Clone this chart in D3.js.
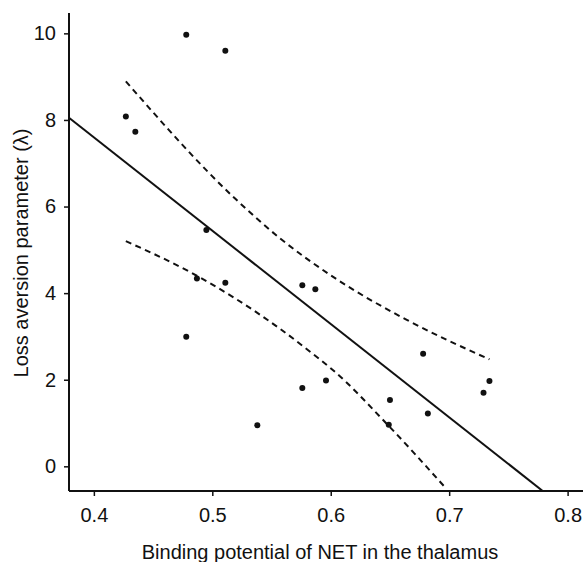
<!DOCTYPE html>
<html>
<head>
<meta charset="utf-8">
<script src="https://cdn.jsdelivr.net/npm/d3@7"></script>
<style>
  body { margin: 0; background: #fff; }
  text { font-family: "Liberation Sans", Arial, sans-serif; fill: #111; }
</style>
</head>
<body>
<script>
// binding potential of NET (x) vs loss aversion lambda (y)
const bpNET = [0.478, 0.511, 0.427, 0.435, 0.495, 0.487, 0.511, 0.478, 0.538,
  0.576, 0.587, 0.678, 0.734, 0.729, 0.576, 0.596, 0.650, 0.682, 0.649]
const lambda = [9.97, 9.60, 8.08, 7.73, 5.46, 4.34, 4.24, 2.99, 0.95,
  4.18, 4.09, 2.60, 1.97, 1.70, 1.81, 1.98, 1.53, 1.22, 0.96]

// regression line end points
const fitX = [0.379, 0.779]
const fitY = [8.05, -0.57]

// confidence bands (dashed)
const upperX = [0.427, 0.519, 0.557, 0.604, 0.663, 0.734]
const upperY = [8.89, 6.19, 5.27, 4.34, 3.40, 2.47]
const lowerX = [0.427, 0.481, 0.557, 0.588, 0.602, 0.647, 0.697]
const lowerY = [5.20, 4.49, 3.18, 2.53, 2.22, 0.99, -0.50]

const xTicks = [0.4, 0.5, 0.6, 0.7, 0.8]
const yTicks = [0, 2, 4, 6, 8, 10]

const width = 583, height = 562
const mLeft = 69, mRight = 583, mTop = 13, mBottom = 491

let svg = d3.select("body").append("svg")
  .attr("width", width).attr("height", height)

let x = d3.scaleLinear().domain([0.379, 0.813]).range([mLeft, mRight])
let y = d3.scaleLinear().domain([-0.57, 10.47]).range([mBottom, mTop])

svg.append("defs").append("clipPath").attr("id", "clip")
  .append("rect").attr("x", mLeft).attr("y", mTop)
  .attr("width", mRight - mLeft).attr("height", mBottom - mTop)

// axes
let xAxis = svg.append("g").attr("transform", `translate(0,${mBottom})`)
  .call(d3.axisBottom(x).tickValues(xTicks).tickFormat(d3.format(".1f")).tickSize(5).tickPadding(12))
let yAxis = svg.append("g").attr("transform", `translate(${mLeft},0)`)
  .call(d3.axisLeft(y).tickValues(yTicks).tickFormat(d3.format("d")).tickSize(5).tickPadding(8))

for (let ax of [xAxis, yAxis]) {
  ax.select(".domain").attr("stroke", "#111").attr("stroke-width", 2)
  ax.selectAll(".tick line").attr("stroke", "#111").attr("stroke-width", 1.5)
  ax.selectAll(".tick text").style("font-size", "20px").attr("fill", "#111")
}
// plain lines instead of the outer tick caps
xAxis.select(".domain").attr("d", `M${mLeft},0H${mRight}`)
yAxis.select(".domain").attr("d", `M0,${mTop}V${mBottom}`)

// axis titles
svg.append("text")
  .attr("x", 320).attr("y", 559)
  .attr("text-anchor", "middle")
  .style("font-size", "20px")
  .text("Binding potential of NET in the thalamus")

svg.append("text")
  .attr("transform", "translate(28,253) rotate(-90)")
  .attr("text-anchor", "middle")
  .style("font-size", "20px")
  .text("Loss aversion parameter (λ)")

let plot = svg.append("g").attr("clip-path", "url(#clip)")

let line = d3.line().x(d => x(d[0])).y(d => y(d[1]))
let curve = d3.line().x(d => x(d[0])).y(d => y(d[1])).curve(d3.curveMonotoneX)

plot.append("path")
  .attr("d", line(d3.zip(fitX, fitY)))
  .attr("fill", "none").attr("stroke", "#111").attr("stroke-width", 2)

for (let band of [[upperX, upperY], [lowerX, lowerY]]) {
  plot.append("path")
    .attr("d", curve(d3.zip(band[0], band[1])))
    .attr("fill", "none").attr("stroke", "#111").attr("stroke-width", 2)
    .attr("stroke-dasharray", "6,4.5")
}

plot.selectAll("circle")
  .data(d3.zip(bpNET, lambda)).enter()
  .append("circle")
    .attr("cx", d => x(d[0]))
    .attr("cy", d => y(d[1]))
    .attr("r", 3)
    .attr("fill", "#111")
</script>
</body>
</html>
